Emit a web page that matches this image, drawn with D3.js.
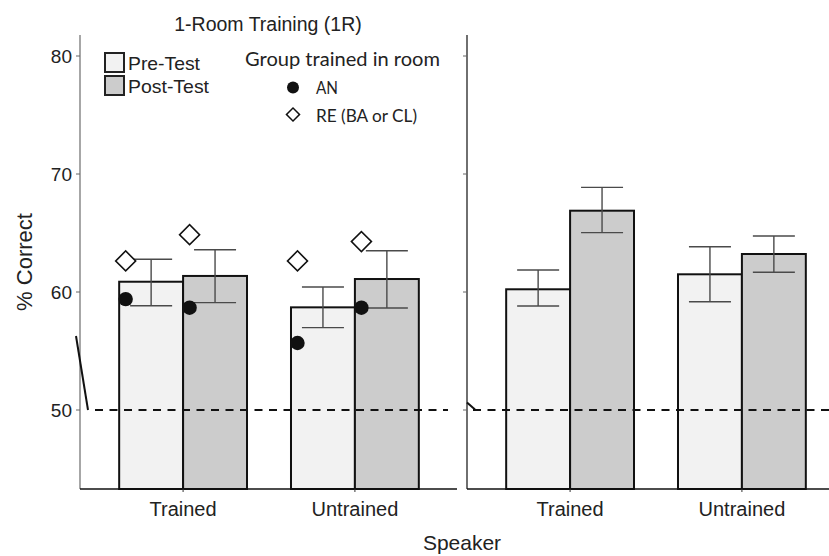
<!DOCTYPE html>
<html><head><meta charset="utf-8">
<script src="https://cdn.jsdelivr.net/npm/d3@7"></script>
<style>body{margin:0;background:#fff}svg{display:block}text{font-family:"Liberation Sans",Arial,sans-serif}</style>
</head><body>
<svg id="c" width="829" height="556"></svg>
<script>
// ---- data ----
const categories = ["Trained", "Untrained"];
const panels = ["1R", "other"];
const panelTitles = ["1-Room Training (1R)", ""];
const yTicks = [50, 60, 70, 80];
const chance = 50;

// panel 1 (1R)
const pre1 = [60.87, 58.7];
const post1 = [61.36, 61.1];
const pre1Lo = [58.84, 56.98], pre1Hi = [62.77, 60.42];
const post1Lo = [59.1, 58.64], post1Hi = [63.58, 63.5];
const anPre = [59.4, 55.68], anPost = [58.67, 58.67];
const rePre = [62.63, 62.63], rePost = [64.86, 64.27];

// panel 2
const pre2 = [60.23, 61.5];
const post2 = [66.89, 63.22];
const pre2Lo = [58.81, 59.18], pre2Hi = [61.86, 63.84];
const post2Lo = [65.03, 61.67], post2Hi = [68.87, 64.75];

const legendTests = ["Pre-Test", "Post-Test"];
const legendGroups = ["AN", "RE (BA or CL)"];
const colors = {pre: "#f2f2f2", post: "#cccccc"};

// ---- layout ----
const svg = d3.select("#c");
const plotTop = 35, plotBottom = 489;
const y = d3.scaleLinear().domain([50, 80]).range([410, 56]);
const panelX = [80, 467], panelW = 378;

const panelData = [
  {pre: pre1, post: post1, preLo: pre1Lo, preHi: pre1Hi, postLo: post1Lo, postHi: post1Hi, pts: true},
  {pre: pre2, post: post2, preLo: pre2Lo, preHi: pre2Hi, postLo: post2Lo, postHi: post2Hi, pts: false}
];

panelData.forEach((pd, pi) => {
  const x0 = panelX[pi];
  const x = d3.scalePoint().domain(categories).range([x0, x0 + panelW]).padding(0.6);
  const bw = x.step() * 0.372;
  const g = svg.append("g");

  // bars
  const bars = [];
  categories.forEach((c, i) => {
    bars.push({c, i, kind: "pre", v: pd.pre[i], lo: pd.preLo[i], hi: pd.preHi[i], x: x(c) - bw});
    bars.push({c, i, kind: "post", v: pd.post[i], lo: pd.postLo[i], hi: pd.postHi[i], x: x(c)});
  });
  g.selectAll("rect.bar").data(bars).enter().append("rect")
    .attr("x", d => d.x).attr("width", bw)
    .attr("y", d => y(d.v)).attr("height", d => plotBottom - y(d.v))
    .attr("fill", d => colors[d.kind]).attr("stroke", "#111").attr("stroke-width", 2);

  // chance line (drawn over bars)
  g.append("line")
    .attr("x1", pi === 0 ? 95 : x0 + 6).attr("x2", pi === 0 ? x0 + panelW - 10 : 829)
    .attr("y1", y(chance)).attr("y2", y(chance))
    .attr("stroke", "#111").attr("stroke-width", 2).attr("stroke-dasharray", "8,6.5");

  // error bars
  const eg = g.selectAll("g.err").data(bars).enter().append("g")
    .attr("stroke", "#4a4a4a").attr("stroke-width", 1.4);
  eg.append("line").attr("x1", d => d.x + bw / 2).attr("x2", d => d.x + bw / 2)
    .attr("y1", d => y(d.lo)).attr("y2", d => y(d.hi));
  eg.append("line").attr("x1", d => d.x + bw / 2 - 21).attr("x2", d => d.x + bw / 2 + 21)
    .attr("y1", d => y(d.lo)).attr("y2", d => y(d.lo));
  eg.append("line").attr("x1", d => d.x + bw / 2 - 21).attr("x2", d => d.x + bw / 2 + 21)
    .attr("y1", d => y(d.hi)).attr("y2", d => y(d.hi));

  // points
  if (pd.pts) {
    const pts = [];
    categories.forEach((c, i) => {
      pts.push({x: x(c) - bw + 6.5, an: anPre[i], re: rePre[i]});
      pts.push({x: x(c) + 6.5, an: anPost[i], re: rePost[i]});
    });
    g.selectAll("path.re").data(pts).enter().append("path")
      .attr("d", d3.symbol(d3.symbolSquare, 200)())
      .attr("transform", d => `translate(${d.x},${y(d.re)}) rotate(45)`)
      .attr("fill", "#fff").attr("stroke", "#111").attr("stroke-width", 1.6);
    g.selectAll("circle.an").data(pts).enter().append("circle")
      .attr("cx", d => d.x).attr("cy", d => y(d.an)).attr("r", 7.2).attr("fill", "#111");
  }

  // axes
  g.append("line").attr("x1", x0).attr("x2", x0).attr("y1", plotTop).attr("y2", plotBottom)
    .attr("stroke", pi === 0 ? "#777" : "#222").attr("stroke-width", 1.3);
  g.append("line").attr("x1", x0).attr("x2", pi === 0 ? x0 + panelW - 1 : 829)
    .attr("y1", plotBottom).attr("y2", plotBottom).attr("stroke", "#111").attr("stroke-width", 1.6);
  g.selectAll("line.yt").data(yTicks).enter().append("line")
    .attr("x1", x0 - 4).attr("x2", x0).attr("y1", d => y(d)).attr("y2", d => y(d))
    .attr("stroke", "#666").attr("stroke-width", 1);
  g.selectAll("line.xt").data(categories).enter().append("line")
    .attr("x1", d => x(d)).attr("x2", d => x(d)).attr("y1", plotBottom).attr("y2", plotBottom + 3)
    .attr("stroke", "#333").attr("stroke-width", 1);
  g.selectAll("text.xl").data(categories).enter().append("text")
    .attr("x", d => x(d)).attr("y", 516).attr("text-anchor", "middle")
    .attr("font-size", 20).attr("fill", "#222").text(d => d);
  if (pi === 0) {
    g.selectAll("text.yl").data(yTicks).enter().append("text")
      .attr("x", 72).attr("y", d => y(d) + 6.8).attr("text-anchor", "end")
      .attr("font-size", 19).attr("fill", "#222").text(d => d);
    g.append("text").attr("x", 268).attr("y", 31).attr("text-anchor", "middle")
      .attr("font-size", 19.5).attr("fill", "#222").text(panelTitles[0]);
  }
});

// break marks
svg.append("line").attr("x1", 76).attr("y1", 336).attr("x2", 88).attr("y2", 410)
  .attr("stroke", "#111").attr("stroke-width", 2);
svg.append("line").attr("x1", 467).attr("y1", 402.5).attr("x2", 475).attr("y2", 409.5)
  .attr("stroke", "#111").attr("stroke-width", 2);

// axis titles
svg.append("text").attr("transform", "translate(32,262) rotate(-90)")
  .attr("text-anchor", "middle").attr("font-size", 22).attr("fill", "#222").text("% Correct");
svg.append("text").attr("x", 462).attr("y", 550).attr("text-anchor", "middle")
  .attr("font-size", 21).attr("fill", "#222").text("Speaker");

// legend: tests
const lg = svg.append("g");
lg.selectAll("rect").data(legendTests).enter().append("rect")
  .attr("x", 105).attr("y", (d, i) => 53 + i * 23).attr("width", 19).attr("height", 19)
  .attr("fill", (d, i) => i === 0 ? colors.pre : colors.post)
  .attr("stroke", "#222").attr("stroke-width", 2);
lg.selectAll("text").data(legendTests).enter().append("text")
  .attr("x", 128).attr("y", (d, i) => 70 + i * 23).attr("font-size", 18.5).attr("fill", "#222")
  .attr("textLength", (d, i) => i === 0 ? 72 : 81).attr("lengthAdjust", "spacingAndGlyphs").text(d => d);

// legend: groups
const gg = svg.append("g");
gg.append("text").attr("x", 245).attr("y", 66).attr("font-size", 18.5).attr("fill", "#222")
  .attr("textLength", 195).attr("lengthAdjust", "spacingAndGlyphs")
  .style("font-family", "Lato, 'Open Sans', sans-serif").text("Group trained in room");
gg.append("circle").attr("cx", 293).attr("cy", 87.5).attr("r", 6).attr("fill", "#111");
gg.append("path").attr("d", d3.symbol(d3.symbolSquare, 85)())
  .attr("transform", "translate(293,114.5) rotate(45)")
  .attr("fill", "#fff").attr("stroke", "#111").attr("stroke-width", 1.5);
gg.selectAll("text.g").data(legendGroups).enter().append("text")
  .attr("x", 316).attr("y", (d, i) => 93.5 + i * 28).attr("font-size", 18).attr("fill", "#222")
  .attr("textLength", (d, i) => i === 0 ? 22 : 101).attr("lengthAdjust", "spacingAndGlyphs")
  .style("font-family", "Lato, 'Open Sans', sans-serif").text(d => d);
</script>
</body></html>
